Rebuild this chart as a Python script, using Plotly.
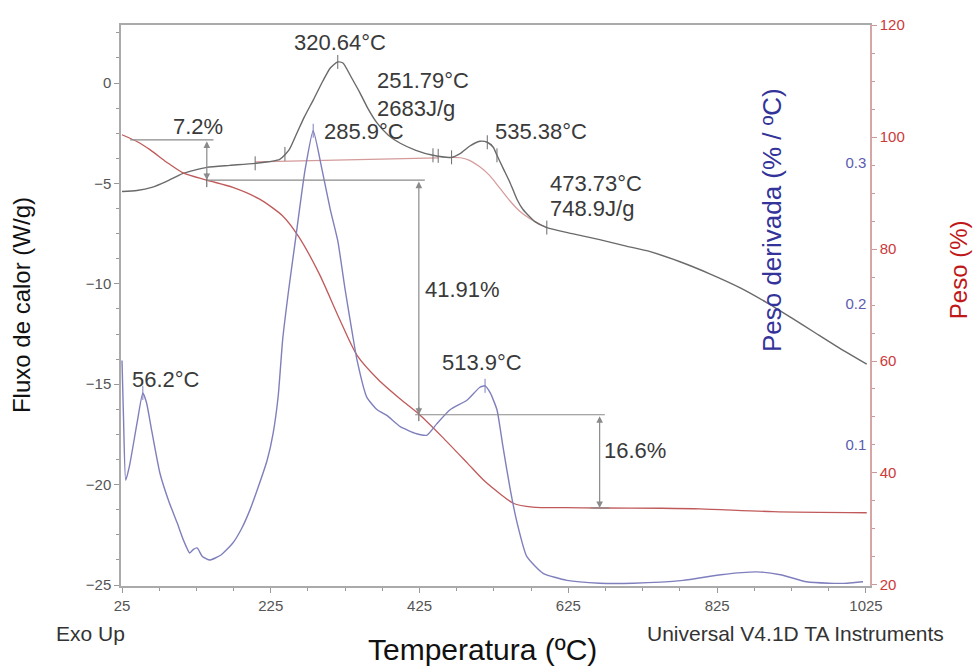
import numpy as np
import plotly.graph_objects as go

# ---------------- data ----------------
# Heat flow (W/g) - left axis
hf_temp = [25, 45, 65, 85, 107, 139, 170, 204, 237, 250, 260, 270, 282, 295, 305, 315, 322,
           333, 345, 356, 368, 383, 399, 420, 443, 468, 480, 492, 506, 516, 524, 529, 538,
           547, 556, 564, 580, 596, 630, 667, 700, 735, 775, 815, 856, 890, 925, 955, 985, 1026]
hf_vals = [-5.4, -5.35, -5.2, -4.9, -4.5, -4.2, -4.1, -4.0, -3.8, -3.3, -2.5, -1.7, -0.85, 0.1,
           0.75, 1.05, 1.0, 0.3, -0.5, -1.3, -2.0, -2.6, -3.0, -3.35, -3.6, -3.7, -3.5, -3.15,
           -2.9, -2.95, -3.2, -3.6, -4.3, -5.0, -5.8, -6.3, -6.9, -7.2, -7.5, -7.8, -8.1, -8.4,
           -8.9, -9.5, -10.2, -10.9, -11.7, -12.4, -13.1, -14.0]

# Integration baselines (W/g)
base1_temp = [204, 300, 380, 450]
base1_vals = [-3.93, -3.85, -3.78, -3.73]
base2_temp = [468, 480, 492, 505, 519, 532, 546, 560, 573, 585, 596]
base2_vals = [-3.7, -3.72, -3.85, -4.15, -4.6, -5.2, -5.85, -6.4, -6.75, -7.0, -7.2]

# Weight (%) - red axis
w_temp = [25, 45, 63, 85, 107, 139, 174, 210, 241, 262, 290, 317, 341, 370, 399, 425, 455,
          489, 512, 533, 551, 577, 620, 667, 750, 802, 900, 1026]
w_vals = [100.4, 99.2, 97.7, 95.5, 93.6, 92.3, 91.0, 88.9, 85.9, 82.3, 75.6, 67.6, 61.0, 56.6,
          53.2, 50.4, 46.5, 41.8, 38.6, 36.3, 34.6, 33.9, 33.8, 33.75, 33.7, 33.6, 33.1, 32.9]

# Derivative weight (%/ºC) - blue axis
d_temp = [25, 27, 30, 35, 45, 53, 58, 65, 76, 88, 99, 108, 116, 121, 126, 133, 143, 158, 174,
          186, 197, 208, 220, 228, 235, 241, 249, 258, 271, 282, 294, 305, 315, 325, 335, 341,
          354, 368, 381, 399, 421, 435, 448, 466, 489, 506, 513, 520, 529, 537, 547, 556, 569,
          591, 623, 667, 712, 779, 830, 878, 910, 945, 975, 1000, 1021]
d_vals = [0.16, 0.12, 0.075, 0.085, 0.115, 0.137, 0.13, 0.11, 0.080, 0.060, 0.045, 0.032,
          0.0234, 0.026, 0.027, 0.021, 0.0184, 0.022, 0.0305, 0.041, 0.054, 0.07, 0.089, 0.108,
          0.135, 0.175, 0.21, 0.245, 0.295, 0.323, 0.295, 0.267, 0.245, 0.21, 0.178, 0.16,
          0.134, 0.125, 0.121, 0.113, 0.108, 0.107, 0.115, 0.125, 0.132, 0.141, 0.142, 0.137,
          0.125, 0.099, 0.068, 0.045, 0.021, 0.009, 0.004, 0.002, 0.002, 0.004, 0.008, 0.010,
          0.008, 0.003, 0.002, 0.002, 0.003]

x_ticks = [25, 225, 425, 625, 825, 1025]
hf_ticks = [0, -5, -10, -15, -20, -25]
w_ticks = [20, 40, 60, 80, 100, 120]
d_ticks = [0.1, 0.2, 0.3]

# Measurement step levels (weight %)
step_top, step_mid, step_low, step_end = 99.5, 92.3, 50.4, 33.75
step_T1, step_T2, step_T3 = 139, 424, 667

# marker temperatures (peak / limit ticks)
hf_mark_T = [204, 244, 315, 443, 450, 468, 516, 529, 596]
d_mark_T = [53, 282, 513]
w_mark_T = [139, 424]

GRAY = "#6a6a6a"
RED = "#c05a5a"
BLUE = "#7f7fbd"
PINK = "#d59a9a"
TXT = "#3a3a3a"
FONT = "Liberation Sans, Arial, sans-serif"

fig = go.Figure()

fig.add_trace(go.Scatter(x=base1_temp, y=base1_vals, mode="lines",
                         line=dict(color=PINK, width=1.2), yaxis="y", hoverinfo="skip"))
fig.add_trace(go.Scatter(x=base2_temp, y=base2_vals, mode="lines",
                         line=dict(color=PINK, width=1.2, shape="spline"), yaxis="y", hoverinfo="skip"))
fig.add_trace(go.Scatter(x=w_temp, y=w_vals, mode="lines",
                         line=dict(color=RED, width=1.3, shape="spline", smoothing=0.7),
                         yaxis="y2", name="Peso"))
fig.add_trace(go.Scatter(x=d_temp, y=d_vals, mode="lines",
                         line=dict(color=BLUE, width=1.4, shape="spline", smoothing=0.5),
                         yaxis="y3", name="Peso derivada"))
fig.add_trace(go.Scatter(x=hf_temp, y=hf_vals, mode="lines",
                         line=dict(color=GRAY, width=1.4, shape="spline", smoothing=0.6),
                         yaxis="y", name="Fluxo de calor"))

# tick markers on curves
fig.add_trace(go.Scatter(x=hf_mark_T, y=np.interp(hf_mark_T, hf_temp, hf_vals), mode="markers",
                         marker=dict(symbol="line-ns", size=10, line=dict(color=GRAY, width=1)),
                         yaxis="y", hoverinfo="skip"))
fig.add_trace(go.Scatter(x=d_mark_T, y=np.interp(d_mark_T, d_temp, d_vals), mode="markers",
                         marker=dict(symbol="line-ns", size=10, line=dict(color=BLUE, width=1)),
                         yaxis="y3", hoverinfo="skip"))
fig.add_trace(go.Scatter(x=w_mark_T, y=np.interp(w_mark_T, w_temp, w_vals), mode="markers",
                         marker=dict(symbol="line-ns", size=10, line=dict(color="#555", width=1)),
                         yaxis="y2", hoverinfo="skip"))

# measurement lines
LC = "#8a8a8a"
shapes = [
    dict(type="line", xref="x", yref="y2", x0=36, x1=148, y0=step_top, y1=step_top,
         line=dict(color=LC, width=1.2)),
    dict(type="line", xref="x", yref="y2", x0=step_T1, x1=432, y0=step_mid, y1=step_mid,
         line=dict(color=LC, width=1.2)),
    dict(type="line", xref="x", yref="y2", x0=419, x1=674, y0=step_low, y1=step_low,
         line=dict(color=LC, width=1.2)),
    dict(type="line", xref="x", yref="y2", x0=655, x1=680, y0=step_end, y1=step_end,
         line=dict(color=LC, width=1.2)),
]

annotations = []
for T, ya, yb in [(step_T1, step_top, step_mid), (step_T2, step_mid, step_low),
                  (step_T3, step_low, step_end)]:
    annotations.append(dict(x=T, y=yb, ax=T, ay=ya, xref="x", yref="y2", axref="x", ayref="y2",
                            text="", showarrow=True, arrowhead=2, arrowside="end+start",
                            arrowsize=1.1, arrowwidth=1.2, arrowcolor=LC, standoff=0, startstandoff=0))

def txt(x, y, s, xanchor="left", size=22):
    annotations.append(dict(x=x, y=y, xref="x", yref="y", text=s, showarrow=False,
                            xanchor=xanchor, yanchor="middle",
                            font=dict(family=FONT, size=size, color=TXT)))

txt(318, 2.04, "320.64°C", "center")
txt(365, 0.15, "251.79°C")
txt(365, -1.25, "2683J/g")
txt(294, -2.39, "285.9°C")
txt(127, -2.14, "7.2%", "center")
txt(524, -2.39, "535.38°C")
txt(598, -4.98, "473.73°C")
txt(598, -6.27, "748.9J/g")
txt(430, -10.26, "41.91%")
txt(36, -14.79, "56.2°C")
txt(452, -13.94, "513.9°C")
txt(670, -18.28, "16.6%")

def ptxt(x, y, s, size, color, angle=0):
    annotations.append(dict(x=x, y=y, xref="paper", yref="paper", text=s, showarrow=False,
                            xanchor="center", yanchor="middle", textangle=angle,
                            font=dict(family=FONT, size=size, color=color)))

ptxt(-0.132, 0.501, "Fluxo de calor (W/g)", 24, "#111", -90)
ptxt(0.869, 0.652, "Peso derivada (% / ºC)", 26, "#33339a", -90)
ptxt(1.1175, 0.563, "Peso (%)", 24, "#c01818", -90)
ptxt(0.483, -0.114, "Temperatura (ºC)", 30, "#111")
ptxt(-0.041, -0.084, "Exo Up", 21, "#333")
ptxt(0.9, -0.084, "Universal V4.1D TA Instruments", 21, "#333")

tickfont = dict(family=FONT, size=15, color="#555")

fig.update_layout(
    width=977, height=666,
    margin=dict(l=121, r=107, t=25, b=80),
    paper_bgcolor="white", plot_bgcolor="white",
    showlegend=False,
    shapes=shapes, annotations=annotations,
    xaxis=dict(range=[23.66, 1030.4], tickvals=x_ticks, ticks="outside", ticklen=5,
               tickcolor="#999", showline=True, linecolor="#aaa", linewidth=1.5, mirror=True,
               showgrid=False, zeroline=False, tickfont=tickfont,
               minor=dict(tick0=25, dtick=50, ticks="outside", ticklen=3, tickcolor="#999")),
    yaxis=dict(range=[-25.05, 2.89], tickvals=hf_ticks, ticks="outside", ticklen=5,
               tickcolor="#999", showline=True, linecolor="#aaa", linewidth=1.5,
               showgrid=False, zeroline=False, tickfont=tickfont,
               minor=dict(tick0=0, dtick=1.25, ticks="outside", ticklen=3, tickcolor="#999")),
    yaxis2=dict(range=[19.82, 120], tickvals=w_ticks, overlaying="y", side="right", anchor="x",
                ticks="outside", ticklen=5, tickcolor="#c99", showline=True, linecolor="#d6a5a5",
                linewidth=1.5, showgrid=False, zeroline=False,
                tickfont=dict(family=FONT, size=15, color="#cc3a3a"),
                minor=dict(tick0=20, dtick=5, ticks="outside", ticklen=3, tickcolor="#c99")),
    yaxis3=dict(range=[0, 0.398], tickvals=d_ticks, overlaying="y", side="left", anchor="free",
                position=0.995, ticks="", showline=False, showgrid=False,
                zeroline=False, tickfont=dict(family=FONT, size=15, color="#5c5cb0")),
)

fig.write_html("out.html")
